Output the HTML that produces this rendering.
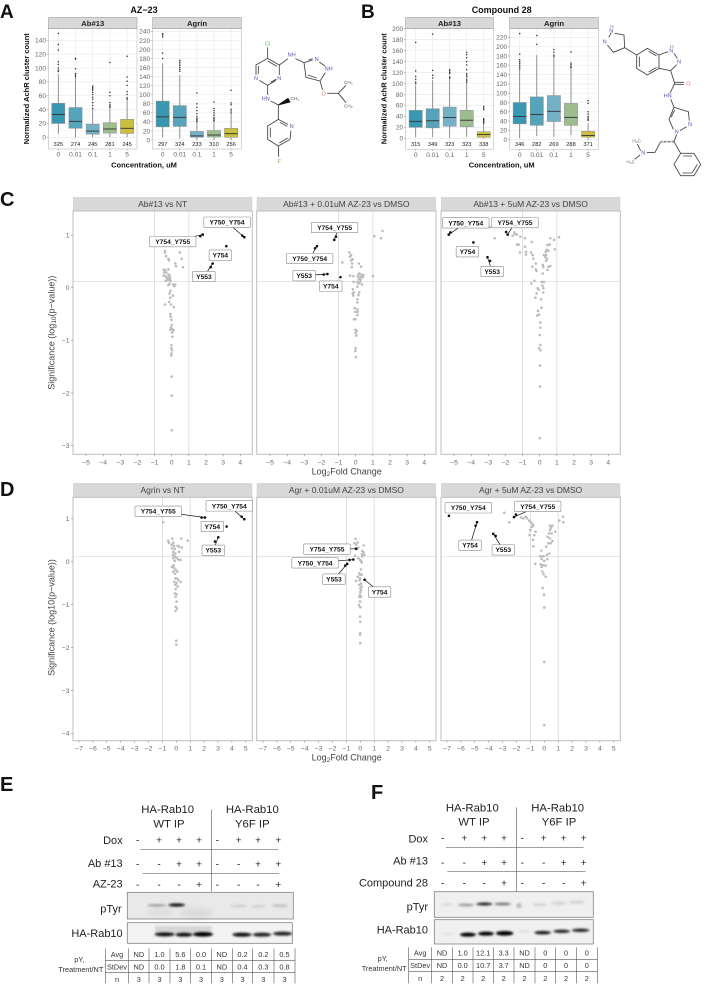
<!DOCTYPE html>
<html lang="en">
<head>
<meta charset="utf-8">
<title>AZ-23 and Compound 28 figure</title>
<style>
html,body{margin:0;padding:0;background:#fff;}
#figure{display:block;font-family:"Liberation Sans",sans-serif;}
</style>
</head>
<body>
<svg id="figure" xmlns="http://www.w3.org/2000/svg" width="708" height="986" viewBox="0 0 708 986">
<defs>
<filter id="blur1" x="-30%" y="-100%" width="160%" height="300%"><feGaussianBlur stdDeviation="3"/></filter>
<filter id="blur2" x="-30%" y="-100%" width="160%" height="300%"><feGaussianBlur stdDeviation="9"/></filter>
</defs>
<rect width="708" height="986" fill="#fff"/>

<!-- panel letters -->
<g font-weight="bold" fill="#111">
<text x="0" y="18" font-size="19">A</text>
<text x="361" y="18" font-size="19">B</text>
<text x="0" y="206" font-size="20">C</text>
<text x="0" y="496" font-size="20">D</text>
<text x="0" y="791" font-size="20">E</text>
<text x="371" y="799" font-size="20">F</text>
</g>

<!-- box plot titles -->
<g font-weight="bold" fill="#111" text-anchor="middle">
<text x="144" y="13" font-size="9">AZ−23</text>
<text x="501.7" y="13" font-size="9">Compound 28</text>
<text x="144" y="167.5" font-size="7.5">Concentration, uM</text>
<text x="501.7" y="167.5" font-size="7.5">Concentration, uM</text>
<text transform="translate(29,88.7) rotate(-90)" font-size="7.5">Normalized AchR cluster count</text>
<text transform="translate(386.5,88.7) rotate(-90)" font-size="7.5">Normalized AchR cluster count</text>
</g>

<!-- volcano axis titles -->
<g fill="#444" text-anchor="middle" font-size="9">
<text transform="translate(54.5,332.7) rotate(-90)">Significance (log<tspan font-size="6.5" dy="1.5">10</tspan><tspan dy="-1.5">(p−value))</tspan></text>
<text transform="translate(54.5,617.5) rotate(-90)">Significance (log10(p−value))</text>
<text x="346.7" y="474.5">Log<tspan font-size="6.5" dy="1.5">2</tspan><tspan dy="-1.5">Fold Change</tspan></text>
<text x="346.7" y="760.5">Log<tspan font-size="6.5" dy="1.5">2</tspan><tspan dy="-1.5">Fold Change</tspan></text>
</g>

<!-- structure A -->
<g transform="scale(.33333)" fill="none" stroke="#444" stroke-width="2.6">
<path d="M768 225L768 195L803 175L838 195L838 225M828 241L803 256L778 241M775 222L775 198M803 183L831 199M812 247L829 237M803 175L803 142"/>
<path d="M838 195L864 176M886 176L912 188M912 188L938 180M958 186L975 198M912 188L918 232L960 243L976 218M925 180L938 176M924 225L950 234"/>
<path d="M960 243L968 270M982 280L1015 280L1038 256M1015 280L1038 308M803 256L803 285M812 303L835 315L835 358L864 373M873 392L870 418L835 438L803 418L803 378L835 358M811 383L811 412M838 429L863 414M840 367L862 379M835 438L836 470"/>
<path d="M835 315L864 295L870 306Z" fill="#111" stroke="#111"/>
<g stroke="none" font-size="17" text-anchor="middle">
<text x="803" y="136" fill="#5db85d">Cl</text>
<text x="875" y="170" fill="#5a5ab5">NH</text>
<text x="950" y="183" fill="#5a5ab5">N</text>
<text x="986" y="212" fill="#5a5ab5">NH</text>
<text x="971" y="287" fill="#ef6f6f">O</text>
<text x="797" y="301" fill="#5a5ab5">HN</text>
<text x="768" y="240" fill="#5a5ab5">N</text>
<text x="838" y="240" fill="#5a5ab5">N</text>
<text x="875" y="384" fill="#5a5ab5">N</text>
<text x="838" y="489" fill="#c8904f">F</text>
<text x="884" y="300" fill="#555" font-size="14">CH₃</text>
<text x="1045" y="252" fill="#555" font-size="14">CH₃</text>
<text x="1045" y="322" fill="#555" font-size="14">CH₃</text>
</g>
</g>

<!-- structure B -->
<g transform="translate(354,0) scale(.33333)" fill="none" stroke="#444" stroke-width="2.6">
<path d="M782 100L810 105L812 143L778 157L760 135M764 112L772 98M812 143L848 165M848 165L880 145L915 165L915 205L880 225L848 205L848 165M856 170L856 200M884 154L908 168M884 216L908 202"/>
<path d="M915 165L942 155M960 160L970 175M968 194L950 212L915 205M950 212L962 250M962 247L990 247M962 253L990 253M962 250L948 280M950 297L960 322L1003 335L1006 362M998 380L978 392M958 388L945 358L960 322M951 352L962 330M968 403L960 425"/>
<path d="M960 425L980 460L1020 460L1040 493L1020 527L980 527L960 493L980 460M988 468L1014 468M1030 493L1015 518M985 519L1015 519M920 425L903 457L878 458M860 452L850 432M858 465L842 478"/>
<path d="M960 425L920 425" stroke-width="5" stroke-dasharray="2 2"/>
<g stroke="none" font-size="17" text-anchor="middle" fill="#5a5ab5">
<text x="772" y="97">N</text><text x="774" y="84" font-size="14">H</text>
<text x="752" y="131">N</text>
<text x="952" y="158">N</text><text x="954" y="144" font-size="14">H</text>
<text x="975" y="190">N</text>
<text x="941" y="293">HN</text>
<text x="1008" y="378">N</text>
<text x="968" y="401">N</text>
<text x="868" y="464">N</text>
<text x="1003" y="257" fill="#ef6f6f">O</text>
<text x="848" y="427" fill="#666" font-size="14">H₃C</text>
<text x="830" y="490" fill="#666" font-size="14">H₃C</text>
</g>
</g>

<!-- panel E -->
<g id="panel-e" transform="translate(0,770) scale(.33333)" fill="#222">
<g font-size="34" text-anchor="middle">
<text x="503" y="129">HA-Rab10</text><text x="507" y="172">WT IP</text>
<text x="757" y="129">HA-Rab10</text><text x="757" y="172">Y6F IP</text>
</g>
<g font-size="33" text-anchor="end">
<text x="368" y="222">Dox</text><text x="368" y="291">Ab #13</text><text x="368" y="353">AZ-23</text>
<text x="365" y="428">pTyr</text><text x="368" y="501">HA-Rab10</text>
</g>
<path d="M634 118V365M422 238H835M428 310H838" stroke="#666" stroke-width="2" fill="none"/>
<g>
<rect x="382" y="367" width="498" height="80" fill="#e9e9e9"/>
<ellipse cx="590" cy="430" rx="50" ry="16" fill="#dadada" filter="url(#blur2)"/>
<ellipse cx="480" cy="425" rx="40" ry="14" fill="#dedede" filter="url(#blur2)"/>
<ellipse cx="470" cy="406" rx="28" ry="3" fill="#8a8a8a" filter="url(#blur1)"/>
<ellipse cx="530" cy="405" rx="25" ry="5" fill="#111" filter="url(#blur1)"/>
<ellipse cx="716" cy="408" rx="25" ry="4" fill="#cccccc" filter="url(#blur1)"/>
<ellipse cx="775" cy="409" rx="22" ry="4" fill="#cfcfcf" filter="url(#blur1)"/>
<ellipse cx="840" cy="407" rx="25" ry="5" fill="#c6c6c6" filter="url(#blur1)"/>
<rect x="382" y="367" width="498" height="80" fill="none" stroke="#888" stroke-width="2.5"/>
</g>
<g>
<rect x="382" y="458" width="495" height="62" fill="#f3f3f3"/>
<rect x="465" y="468" width="170" height="20" fill="#d6d6d6" filter="url(#blur1)"/>
<ellipse cx="494" cy="493" rx="30" ry="6" fill="#111" filter="url(#blur1)"/>
<ellipse cx="552" cy="494" rx="26" ry="6" fill="#111" filter="url(#blur1)"/>
<ellipse cx="609" cy="493" rx="30" ry="7" fill="#000" filter="url(#blur1)"/>
<ellipse cx="726" cy="494" rx="29" ry="6" fill="#111" filter="url(#blur1)"/>
<ellipse cx="786" cy="494" rx="28" ry="6" fill="#222" filter="url(#blur1)"/>
<ellipse cx="848" cy="491" rx="29" ry="6" fill="#222" filter="url(#blur1)"/>
<rect x="382" y="458" width="495" height="62" fill="none" stroke="#888" stroke-width="2.5"/>
</g>
<g font-size="22" fill="#333">
<text x="238" y="576" text-anchor="middle">pY,</text>
<text x="310" y="606" text-anchor="end">Treatment/NT</text>
</g>
</g>

<!-- panel F -->
<g id="panel-f" transform="translate(360,770) scale(.33333)" fill="#222">
<g font-size="34" text-anchor="middle">
<text x="337" y="124">HA-Rab10</text><text x="342" y="167">WT IP</text>
<text x="593" y="124">HA-Rab10</text><text x="597" y="167">Y6F IP</text>
</g>
<g font-size="33" text-anchor="end">
<text x="204" y="217">Dox</text><text x="204" y="284">Ab #13</text><text x="204" y="349">Compound 28</text>
<text x="204" y="421">pTyr</text><text x="204" y="491">HA-Rab10</text>
</g>
<path d="M469 112V365M258 232H671M262 304H677" stroke="#666" stroke-width="2" fill="none"/>
<g>
<rect x="223" y="365" width="477" height="77" fill="#efefef"/>
<ellipse cx="262" cy="404" rx="20" ry="3" fill="#d5d5d5" filter="url(#blur1)"/>
<ellipse cx="318" cy="405" rx="24" ry="4" fill="#999" filter="url(#blur1)"/>
<ellipse cx="373" cy="402" rx="24" ry="4.5" fill="#222" filter="url(#blur1)"/>
<ellipse cx="428" cy="402" rx="24" ry="4" fill="#777" filter="url(#blur1)"/>
<circle cx="477" cy="407" r="8" fill="#bbb" filter="url(#blur1)"/>
<ellipse cx="540" cy="404" rx="22" ry="4" fill="#d0d0d0" filter="url(#blur1)"/>
<ellipse cx="597" cy="400" rx="24" ry="5" fill="#d4d4d4" filter="url(#blur1)"/>
<ellipse cx="650" cy="397" rx="24" ry="5" fill="#d4d4d4" filter="url(#blur1)"/>
<rect x="223" y="365" width="477" height="77" fill="none" stroke="#888" stroke-width="2.5"/>
</g>
<g>
<rect x="223" y="449" width="477" height="73" fill="#f0f0f0"/>
<ellipse cx="262" cy="493" rx="20" ry="3" fill="#ddd" filter="url(#blur1)"/>
<ellipse cx="324" cy="494" rx="24" ry="6" fill="#000" filter="url(#blur1)"/>
<ellipse cx="378" cy="491" rx="24" ry="6" fill="#000" filter="url(#blur1)"/>
<ellipse cx="434" cy="490" rx="26" ry="7" fill="#000" filter="url(#blur1)"/>
<ellipse cx="492" cy="484" rx="20" ry="3" fill="#ddd" filter="url(#blur1)"/>
<ellipse cx="548" cy="488" rx="25" ry="5" fill="#111" filter="url(#blur1)"/>
<ellipse cx="605" cy="484" rx="25" ry="5" fill="#222" filter="url(#blur1)"/>
<ellipse cx="662" cy="481" rx="26" ry="5" fill="#222" filter="url(#blur1)"/>
<rect x="223" y="449" width="477" height="73" fill="none" stroke="#888" stroke-width="2.5"/>
</g>
<g font-size="22" fill="#333">
<text x="68" y="573" text-anchor="middle">pY,</text>
<text x="140" y="603" text-anchor="end">Treatment/NT</text>
</g>
</g>
</svg>

<script>
// ---- box plot data (panels A and B) ----
const concLabels = ['0', '0.01', '0.1', '1', '5'];
const boxFills = ['#3a97b2', '#56a4bb', '#74b1c4', '#9dbd8f', '#cdbf3e'];

const aAbQ1 = [20, 13, 4.5, 6, 5.5];
const aAbMed = [33, 23, 9, 12, 13];
const aAbQ3 = [49, 43, 19, 21, 26];
const aAbLow = [5, 0, 0, 0, 0];
const aAbHigh = [91, 88, 42, 42, 54];
const aAbOut = [[150,134,126,109,105,100,97,95],[114,113,99,92,90,88],[74,72,70,68,65,62,58,55,50,46,42],[108,65,60,50,47,45,43],[117,87,81,75,66,62,57,55]];
const aAbN = [325, 274, 245, 281, 245];
const aAbTicks = [0,20,40,60,80,100,120,140];

const aAgQ1 = [29, 30, 6, 6.5, 6];
const aAgMed = [51, 50, 9, 11, 14];
const aAgQ3 = [86, 76, 19, 21, 26];
const aAgLow = [6, 3, 0, 0, 0];
const aAgHigh = [169, 143, 37, 40, 58];
const aAgOut = [[235,232,228,192,180],[176,172,168,164,160,156,152],[104,80,72,65,58,52,48,45,42,40],[84,70,65,60,55,50,47,44,42],[110,82,78,68,64,60]];
const aAgN = [297, 324, 233, 310, 256];
const aAgTicks = [0,20,40,60,80,100,120,140,160,180,200,220,240];

const bAbQ1 = [20, 19, 22, 21, 2];
const bAbMed = [31, 32, 38, 33, 7];
const bAbQ3 = [51, 54, 57, 51, 12];
const bAbLow = [2, 2, 0, 3, 0];
const bAbHigh = [97, 106, 110, 100, 30];
const bAbOut = [[175,123,113,108,103,100],[190,124,115,110],[125,123,120,118,112,110],[157,153,147,140,134,125,118,115,112,108,105,102],[58,55,52,36,34,32,30,28]];
const bAbN = [315, 349, 323, 323, 338];
const bAbTicks = [0,20,40,60,80,100,120,140,160,180,200];

const bAgQ1 = [34, 31, 39, 31, 5.5];
const bAgMed = [50, 54, 61, 48, 9];
const bAgQ3 = [80, 92, 95, 78, 18];
const bAgLow = [3, 8, 6, 10, 0];
const bAgHigh = [150, 182, 175, 160, 35];
const bAgOut = [[228,184,172,168,164,160,156,152],[224,205],[194,188,182,178],[189,165,162,158,155],[84,78,60,55,50,47,44,42]];
const bAgN = [346, 282, 269, 288, 371];
const bAgTicks = [0,20,40,60,80,100,120,140,160,180,200,220];

// ---- volcano data (panels C and D) ----
const xTicksC = [-5,-4,-3,-2,-1,0,1,2,3,4];
const xTicksD = [-7,-6,-5,-4,-3,-2,-1,0,1,2,3,4,5];
const yTicksC = [1,0,-1,-2,-3];
const yTicksD = [1,0,-1,-2,-3,-4];
const thresholdLog2 = 1;
const thresholdSig = 0.12;

const c1GreyFc = [-.39,-.39,-.33,-.19,-.16,.47,.58,.66,.21,.25,-.47,-.37,-.19,-.43,-.31,-.47,-.35,-.19,-.12,-.29,-.19,-.10,-.23,-.16,-.35,-.06,-.12,-.19,.08,.21,.16,-.08,-.12,.08,-.08,-.16,-.39,-.04,.12,-.08,-.06,-.02,0,-.04,.06,-.08,.10,.02,.04,-.02,-.02,.02,-.02,-.02,0,0,0];
const c1GreySig = [.70,.67,.60,.55,.52,.67,.55,.39,.46,.41,.34,.34,.35,.29,.29,.23,.22,.25,.23,.19,.19,.18,.15,.15,.13,.13,.08,.05,.06,.06,.03,-.06,-.11,-.15,-.19,-.27,-.32,-.32,-.37,-.50,-.55,-.61,-.71,-.76,-.79,-.80,-.81,-.85,-.93,-1.09,-1.15,-1.19,-1.25,-1.29,-1.69,-2.05,-2.71];
const c1SiteNames = ['Y750_Y754','Y750_Y754','Y754_Y755','Y754_Y755','Y754','Y553','Y553'];
const c1SiteFc = [4.24,4.12,1.81,1.67,3.19,2.39,2.28];
const c1SiteSig = [.96,.99,1.01,.98,.79,.46,.39];

const c2GreyFc = [1.56,1.09,1.48,-.37,-.27,-.33,-.18,-.27,-.21,-.23,-.78,.18,.31,-.33,-.14,.21,.16,.33,.45,1.01,.12,.27,.41,-.12,.18,.29,.1,.25,.37,.16,.10,-.16,-.18,-.1,-.14,.21,.16,.1,.1,-.06,.1,-.02,.12,.1,-.1,-.02,-.02,.06,0,.04,0,-.02,0];
const c2GreySig = [1.08,.98,.94,.67,.62,.59,.54,.52,.46,.39,.48,.46,.40,.23,.22,.27,.25,.25,.24,.22,.21,.20,.2,.11,.16,.15,.11,.10,.06,.08,.02,-.03,-.11,-.09,-.15,-.09,-.14,-.22,-.28,-.39,-.41,-.46,-.46,-.52,-.6,-.6,-.8,-.82,-.86,-.91,-1.15,-1.2,-1.32];
const c2SiteNames = ['Y750_Y754','Y750_Y754','Y754_Y755','Y754_Y755','Y754','Y553','Y553'];
const c2SiteFc = [-2.26,-2.37,-1.25,-1.15,-.89,-1.65,-1.87];
const c2SiteSig = [.79,.75,.91,.97,.20,.26,.25];

const c3GreyFc = [1.13,.84,.62,.58,.45,.88,.41,.51,.35,.25,.37,.33,.43,.37,.62,.51,.18,.21,.45,.18,-2.9,-2.63,-1.58,-1.44,-1.34,-1.48,-1.13,-.86,-1.32,-1.23,-.86,-.8,-1.15,-.8,-.47,-.51,-.41,-.37,-.43,-.23,-.23,-.18,-.31,-.49,.12,.25,.16,-.12,-.06,.21,.21,-.18,-.25,.08,.1,-.1,-.04,-.14,.04,.04,0,.04,-.04,.04,.02,.02,0];
const c3GreySig = [.96,.91,.94,.82,.81,.73,.72,.70,.68,.62,.62,.58,.55,.51,.41,.40,.43,.39,.34,.27,1.15,.94,.99,1.02,1.01,1.05,.97,.94,.82,.82,.78,.68,.67,.63,.87,.67,.62,.55,.40,.46,.35,.32,.13,.08,.11,.11,.04,-.01,-.04,-.01,-.09,-.11,-.19,-.22,-.38,-.44,-.51,-.53,-.66,-.76,-.9,-1.09,-1.15,-1.19,-1.48,-1.88,-2.86];
const c3SiteNames = ['Y750_Y754','Y750_Y754','Y754_Y755','Y754_Y755','Y754','Y553','Y553'];
const c3SiteFc = [-5.31,-5.21,-1.87,-1.96,-3.87,-3.05,-2.9];
const c3SiteSig = [1.01,1.05,1.01,1.06,.86,.58,.51];

const d1GreyFc = [-.94,-.29,.36,.82,-.58,-.53,-.22,.1,-.34,-.17,.19,.38,-.29,-.1,.19,-.22,-.07,-.24,-.1,.02,-.22,.14,.31,-.12,-.19,-.31,-.17,-.05,-.22,.07,-.1,.05,-.07,.14,-.14,.31,.02,-.07,.1,-.05,-.1,.02,-.05,.02,-.05,.05,-.05,0,0];
const d1GreySig = [.92,.54,.54,.49,.49,.44,.44,.37,.39,.37,.35,.33,.31,.30,.23,.23,.19,.16,.12,.09,.08,.05,.04,.02,-.08,-.12,-.14,-.19,-.23,-.23,-.28,-.39,-.39,-.43,-.47,-.47,-.5,-.54,-.58,-.64,-.74,-.76,-.82,-.93,-1.05,-1.09,-1.15,-1.84,-1.93];
const d1SiteNames = ['Y750_Y754','Y750_Y754','Y754_Y755','Y754_Y755','Y754','Y553','Y553'];
const d1SiteFc = [4.89,4.7,2.06,1.82,3.62,3.02,2.78];
const d1SiteSig = [.99,1.05,1.03,1.03,.82,.57,.47];

const d2GreyFc = [-.34,-.19,-.43,-.29,.24,-.36,.14,.24,.12,.29,-.38,-.02,-.14,.1,.05,-.07,.1,-.19,0,-.31,-.02,.05,-.07,0,.05,0,-.07,.05,-.02,-.1,0,-.02,0,0,-.02,0,-.14,.14,.05,-.05,.1,-.02];
const d2GreySig = [.53,.45,.43,.40,.38,.31,.25,.22,.17,.16,.14,.04,.08,-.02,-.18,-.27,-.3,-.35,-.31,-.45,-.39,-.51,-.54,-.62,-.66,-.71,-.82,-.82,-.93,-1.01,-1.06,-1.28,-1.4,-1.67,-1.7,-1.9,.33,.12,.02,-.43,-.58,-.78];
const d2SiteNames = ['Y750_Y754','Y750_Y754','Y754_Y755','Y553','Y553','Y754'];
const d2SiteFc = [-.5,-.77,-.29,-.94,-1.08,.31];
const d2SiteSig = [.05,.04,.30,-.05,-.09,-.42];

const d3GreyFc = [-2.88,-2.52,1.34,1.08,1.37,-1.68,-1.34,-1.51,-1.25,-1.1,-.96,-.84,-.91,-.79,-1.01,-.62,-1.06,-.72,-.82,-.79,.41,.58,.48,.79,.41,.34,.53,.24,.41,.58,.29,.46,.14,-.22,.36,.19,-.31,-.19,-.05,.22,-.19,0,-.65,-.26,-.07,.1,-.19,-.14,-.05,.1,-.12,-.02,0,0,0];
const d3GreySig = [1.14,.92,1.05,.96,.92,1.03,1.05,1.01,1.01,.96,.92,.87,.81,.84,.74,.7,.62,.62,.51,.36,.84,.84,.79,.7,.74,.66,.66,.58,.54,.48,.43,.43,.35,.26,.19,.16,.13,.12,.13,.06,.06,.02,-.05,-.06,-.08,-.09,-.12,-.23,-.29,-.35,-.61,-.77,-1.07,-2.34,-3.81];
const d3SiteNames = ['Y750_Y754','Y754_Y755','Y754_Y755','Y754','Y754','Y553','Y553'];
const d3SiteFc = [-6.86,-2.18,-2.04,-4.84,-4.94,-3.67,-3.5];
const d3SiteSig = [1.07,1.04,1.1,.92,.84,.65,.6];

// ---- blot annotation data (panels E and F) ----
const doxRow = ['-','+','+','+','-','+','+','+'];
const abRow = ['-','-','+','+','-','-','+','+'];
const az23Row = ['-','-','-','+','-','-','-','+'];
const comp28Row = ['-','-','-','+','-','-','-','+'];
const tableRowNames = ['Avg','StDev','n'];
const eAvg = ['ND','1.0','5.6','0.0','ND','0.2','0.2','0.5'];
const eStDev = ['ND','0.0','1.8','0.1','ND','0.4','0.3','0.8'];
const eN = ['3','3','3','3','3','3','3','3'];
const fAvg = ['ND','1.0','12.1','3.3','ND','0','0','0'];
const fStDev = ['ND','0.0','10.7','3.7','ND','0','0','0'];
const fN = ['2','2','2','2','2','2','2','2'];

// ---- helpers ----
const NS = 'http://www.w3.org/2000/svg';
const figure = document.getElementById('figure');
function mk(tag, attrs, parent) {
  const el = document.createElementNS(NS, tag);
  for (const k in attrs) el.setAttribute(k, attrs[k]);
  (parent || figure).appendChild(el);
  return el;
}
function label(txt, attrs, parent) {
  const el = mk('text', attrs, parent);
  el.textContent = txt;
  return el;
}
function fmt(v) { return String(v).replace('-', '\u2212'); }

function drawBoxPanel(left, right, bottom, y0, ky, x0, step, title, ticks, q1, med, q3, low, high, out, ns) {
  const top = 28.5;
  const y = v => y0 - v * ky;
  const x = i => x0 + i * step;
  const g = mk('g', {});
  
  
  mk('rect', {x: left, y: top, width: right - left, height: bottom - top, fill: '#fff'}, g);
  ticks.forEach((t, i) => {
    if (i < ticks.length) {
      const mid = y(t + (ticks[1] - ticks[0]) / 2);
      if (mid > top) mk('line', {x1: left, x2: right, y1: mid, y2: mid, stroke: '#f4f4f4', 'stroke-width': .5}, g);
    }
    mk('line', {x1: left, x2: right, y1: y(t), y2: y(t), stroke: '#e8e8e8', 'stroke-width': .6}, g);
    mk('line', {x1: left - 1.5, x2: left, y1: y(t), y2: y(t), stroke: '#777', 'stroke-width': .5}, g);
    const tl = label(fmt(t), {x: left - 2.5, y: y(t) + 2.3, 'font-size': 6.6, fill: '#666', 'text-anchor': 'end'}, g);
    
    
  });
  concLabels.forEach((c, i) => {
    mk('line', {x1: x(i), x2: x(i), y1: top, y2: bottom, stroke: '#e8e8e8', 'stroke-width': .6}, g);
    mk('line', {x1: x(i), x2: x(i), y1: bottom, y2: bottom + 1.5, stroke: '#777', 'stroke-width': .5}, g);
    const tl = label(c, {x: x(i), y: bottom + 7.5, 'font-size': 6.6, fill: '#666', 'text-anchor': 'middle'}, g);
    
    
    const w = mk('line', {x1: x(i), x2: x(i), y1: y(high[i]), y2: y(low[i]), stroke: '#777', 'stroke-width': .8}, g);
    
    
    out[i].forEach(v => {
      const d = mk('circle', {cx: x(i), cy: y(v), r: .75, fill: '#333'}, g);
      
      
    });
    const b = mk('rect', {x: x(i) - 6.6, y: y(q3[i]), width: 13.2, height: y(q1[i]) - y(q3[i]), fill: boxFills[i], stroke: '#8a8a8a', 'stroke-width': .5}, g);
    
    
    const m = mk('line', {x1: x(i) - 6.6, x2: x(i) + 6.6, y1: y(med[i]), y2: y(med[i]), stroke: '#333', 'stroke-width': .9}, g);
    
    
    const n = label(String(ns[i]), {x: x(i), y: 146, 'font-size': 5.7, fill: '#222', 'text-anchor': 'middle'}, g);
    
    
  });
  mk('rect', {x: left, y: top, width: right - left, height: bottom - top, fill: 'none', stroke: '#c4c4c4', 'stroke-width': .7}, g);
  const s = mk('rect', {x: left, y: 17.5, width: right - left, height: 11, fill: '#d9d9d9', stroke: '#8c8c8c', 'stroke-width': .5}, g);
  
  
  const st = label(title, {x: (left + right) / 2, y: 25.8, 'font-size': 7.7, 'font-weight': 'bold', fill: '#222', 'text-anchor': 'middle'}, g);
  
  
}

function drawVolcano(left, right, top, stripBottom, bottom, x0, kx, y0, ky, title, xTicks, yTicks, greyFc, greySig, siteNames, siteFc, siteSig, offsets) {
  const x = v => x0 + v * kx;
  const y = v => y0 - v * ky;
  const g = mk('g', {});
  
  
  const s = mk('rect', {x: left, y: top, width: right - left, height: stripBottom - top, fill: '#d8d8d8'}, g);
  
  
  const st = label(title, {x: (left + right) / 2, y: (top + stripBottom) / 2 + 3, 'font-size': 8.5, fill: '#444', 'text-anchor': 'middle'}, g);
  
  
  [-thresholdLog2, thresholdLog2].forEach(v => {
    const l = mk('line', {x1: x(v), x2: x(v), y1: stripBottom, y2: bottom, stroke: '#dcdcdc', 'stroke-width': .9}, g);
    
    
  });
  const h = mk('line', {x1: left, x2: right, y1: y(thresholdSig), y2: y(thresholdSig), stroke: '#e2e2e2', 'stroke-width': .9}, g);
  
  
  mk('rect', {x: left, y: stripBottom, width: right - left, height: bottom - stripBottom, fill: 'none', stroke: '#bdbdbd', 'stroke-width': 1}, g);
  xTicks.forEach(t => {
    mk('line', {x1: x(t), x2: x(t), y1: bottom, y2: bottom + 2, stroke: '#777', 'stroke-width': .5}, g);
    const tl = label(fmt(t), {x: x(t), y: bottom + 10, 'font-size': 6.8, fill: '#6a6a6a', 'text-anchor': 'middle'}, g);
    
    
  });
  yTicks.forEach(t => {
    mk('line', {x1: left - 2, x2: left, y1: y(t), y2: y(t), stroke: '#777', 'stroke-width': .5}, g);
    const tl = label(fmt(t), {x: left - 3.5, y: y(t) + 2.4, 'font-size': 6.8, fill: '#6a6a6a', 'text-anchor': 'end'}, g);
    
    
  });
  greyFc.forEach((v, i) => {
    const d = mk('circle', {cx: x(v), cy: y(greySig[i]), r: 1.3, fill: '#bcbcbc'}, g);
    
    
  });
  const seen = {};
  siteNames.forEach((name, i) => {
    const px = x(siteFc[i]), py = y(siteSig[i]);
    if (!seen[name]) {
      seen[name] = true;
      const off = offsets[name];
      const cx = px + off[0], cy = py + off[1];
      if (off[2] !== 0) {
        const ld = mk('line', {x1: cx + (off[3] || 0), y1: cy, x2: px, y2: py, stroke: '#111', 'stroke-width': .7}, g);
        
        
      }
      const w = name.length > 5 ? 46.5 : 22.5;
      const b = mk('rect', {x: cx - w / 2, y: cy - 5.2, width: w, height: 10.4, rx: 1, fill: '#fff', stroke: '#8a8a8a', 'stroke-width': .6}, g);
      
      
      const t = label(name, {x: cx, y: cy + 2.4, 'font-size': 6.7, 'font-weight': 'bold', fill: '#111', 'text-anchor': 'middle'}, g);
      
      
    }
    const d = mk('circle', {cx: px, cy: py, r: 1.3, fill: '#111'}, g);
    
    
  });
}

function drawBlotNotes(group, cols, rowYs, rows, vlines, hys, tableLeft, tableRight, tableTop, tableBottom, rowCentres, tableRows) {
  rows.forEach((row, r) => {
    row.forEach((sign, c) => {
      const t = label(sign === '-' ? '-' : '+', {x: cols[c], y: rowYs[r] + 10, 'font-size': 30, 'text-anchor': 'middle', fill: '#222'}, group);
      
      
    });
  });
  vlines.forEach(v => mk('line', {x1: v, x2: v, y1: tableTop, y2: tableBottom, stroke: '#555', 'stroke-width': 1.8}, group));
  hys.forEach(h => mk('line', {x1: tableLeft, x2: tableRight, y1: h, y2: h, stroke: '#555', 'stroke-width': 1.8}, group));
  tableRowNames.forEach((nm, r) => {
    const t = label(nm, {x: (vlines[0] + vlines[1]) / 2, y: rowCentres[r] + 8, 'font-size': 22, 'text-anchor': 'middle', fill: '#333'}, group);
    
    
    tableRows[r].forEach((val, c) => {
      const cell = label(val, {x: (vlines[c + 1] + vlines[c + 2]) / 2, y: rowCentres[r] + 8, 'font-size': 22, 'text-anchor': 'middle', fill: '#333'}, group);
      
      
    });
  });
}

// ---- draw ----
drawBoxPanel(48.5, 137, 149, 137.3, 0.693, 58.3, 17.2, 'Ab#13', aAbTicks, aAbQ1, aAbMed, aAbQ3, aAbLow, aAbHigh, aAbOut, aAbN);
drawBoxPanel(152.7, 241.3, 149, 140, 0.4525, 162.7, 17.1, 'Agrin', aAgTicks, aAgQ1, aAgMed, aAgQ3, aAgLow, aAgHigh, aAgOut, aAgN);
drawBoxPanel(405.7, 493.3, 149.3, 138.3, 0.548, 415.7, 17, 'Ab#13', bAbTicks, bAbQ1, bAbMed, bAbQ3, bAbLow, bAbHigh, bAbOut, bAbN);
drawBoxPanel(509.7, 598.3, 149.3, 139.7, 0.465, 519.7, 17.1, 'Agrin', bAgTicks, bAgQ1, bAgMed, bAgQ3, bAgLow, bAgHigh, bAgOut, bAgN);

drawVolcano(73, 252.3, 197, 211, 454.3, 171.7, 17.13, 287.7, 52.6, 'Ab#13 vs NT', xTicksC, yTicksC, c1GreyFc, c1GreySig, c1SiteNames, c1SiteFc, c1SiteSig,
  {Y750_Y754: [-17.3, -15], Y754_Y755: [-30, 7], Y754: [-6, 9, 0], Y553: [-8.7, 13]});
drawVolcano(256.7, 436, 197, 211, 454.3, 355.7, 17.13, 287.7, 52.6, 'Ab#13 + 0.01uM AZ-23 vs DMSO', xTicksC, [], c2GreyFc, c2GreySig, c2SiteNames, c2SiteFc, c2SiteSig,
  {Y750_Y754: [-7.3, 12.3], Y754_Y755: [0.3, -12.3, 1, 4], Y754: [-9.7, 9, 0], Y553: [-23.3, 1.7]});
drawVolcano(441, 620.3, 197, 211, 454.3, 539.7, 17.13, 287.7, 52.6, 'Ab#13 + 5uM AZ-23 vs DMSO', xTicksC, [], c3GreyFc, c3GreySig, c3SiteNames, c3SiteFc, c3SiteSig,
  {Y750_Y754: [17, -11.7], Y754_Y755: [7.3, -12], Y754: [-6, 9.3, 0], Y553: [4.7, 14.3]});

drawVolcano(73, 252.3, 483, 497.3, 740.7, 176.3, 13.9, 561.7, 42.9, 'Agrin vs NT', xTicksD, yTicksD, d1GreyFc, d1GreySig, d1SiteNames, d1SiteFc, d1SiteSig,
  {Y750_Y754: [-15, -13.3], Y754_Y755: [-46.7, -6.3], Y754: [-14.3, 0, 0], Y553: [-5, 13]});
drawVolcano(256.7, 436, 483, 497.3, 740.7, 360.3, 13.9, 561.7, 42.9, 'Agr + 0.01uM AZ-23 vs DMSO', xTicksD, [], d2GreyFc, d2GreySig, d2SiteNames, d2SiteFc, d2SiteSig,
  {Y750_Y754: [-38.3, 3.3], Y754_Y755: [-29.3, 0.3], Y754: [15, 12.3], Y553: [-13.3, 15.3]});
drawVolcano(441, 620.3, 483, 497.3, 740.7, 544.3, 13.9, 561.7, 42.9, 'Agr + 5uM AZ-23 vs DMSO', xTicksD, [], d3GreyFc, d3GreySig, d3SiteNames, d3SiteFc, d3SiteSig,
  {Y750_Y754: [19.3, -8, 0], Y754_Y755: [23.7, -10.7], Y754: [-7, 23], Y553: [10, 16]});

drawBlotNotes(document.getElementById('panel-e'),
  [413, 477, 537, 597, 652, 716, 774, 835], [211, 283, 344], [doxRow, abRow, az23Row],
  [316, 386, 447, 510, 572, 634, 697, 758, 822, 885], [571, 607], 316, 885, 535, 640, [553, 590, 628], [eAvg, eStDev, eN]);
drawBlotNotes(document.getElementById('panel-f'),
  [248, 313, 373, 432, 487, 551, 611, 671], [205, 278, 340], [doxRow, abRow, comp28Row],
  [146, 215, 277, 339, 400, 462, 525, 587, 649, 712], [568, 604], 146, 712, 532, 640, [549, 586, 625], [fAvg, fStDev, fN]);
</script>
</body>
</html>
